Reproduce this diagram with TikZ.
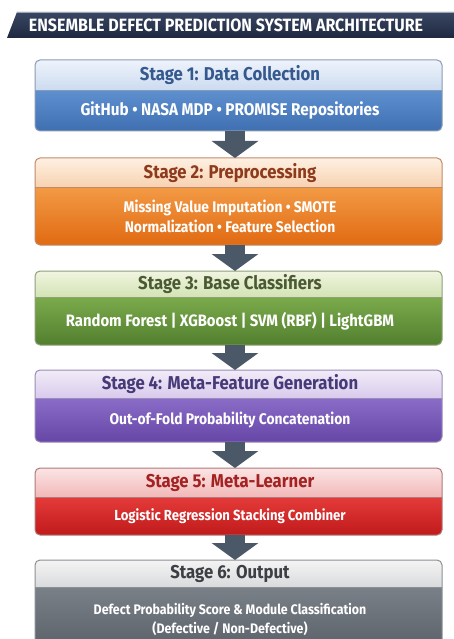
\documentclass[tikz,border=0pt]{standalone}
\usepackage{fontspec}
\setmainfont{Fira Sans}
\newfontfamily\cf[FakeStretch=0.9]{Fira Sans}
\usetikzlibrary{arrows.meta,shadings}
\definecolor{bannerTop}{HTML}{3A4662}
\definecolor{bannerBot}{HTML}{1E2840}
\definecolor{bannerEdge}{HTML}{9AA6B8}
\definecolor{arrowc}{HTML}{4B5868}
% stage 1 blue
\definecolor{sAht}{HTML}{EEF3FB}\definecolor{sAhb}{HTML}{CCDBF0}
\definecolor{sAbt}{HTML}{5E90D0}\definecolor{sAbb}{HTML}{3F6FB0}
\definecolor{sAtx}{HTML}{35598E}\definecolor{sAbr}{HTML}{8A9AB4}
% stage 2 orange
\definecolor{sBht}{HTML}{FEF0E2}\definecolor{sBhb}{HTML}{F8D2B0}
\definecolor{sBbt}{HTML}{F39A45}\definecolor{sBbb}{HTML}{E06A12}
\definecolor{sBtx}{HTML}{8E3A1C}\definecolor{sBbr}{HTML}{C08A6A}
% stage 3 green
\definecolor{sCht}{HTML}{F0F5E0}\definecolor{sChb}{HTML}{D3E3B4}
\definecolor{sCbt}{HTML}{7BAA4C}\definecolor{sCbb}{HTML}{527F2E}
\definecolor{sCtx}{HTML}{4B5A34}\definecolor{sCbr}{HTML}{8FA07A}
% stage 4 purple
\definecolor{sDht}{HTML}{F2ECF8}\definecolor{sDhb}{HTML}{D8CAEC}
\definecolor{sDbt}{HTML}{8A6CC8}\definecolor{sDbb}{HTML}{6646A6}
\definecolor{sDtx}{HTML}{463A78}\definecolor{sDbr}{HTML}{9A8CB8}
% stage 5 red
\definecolor{sEht}{HTML}{FBE4E4}\definecolor{sEhb}{HTML}{F2B8B8}
\definecolor{sEbt}{HTML}{E43A3A}\definecolor{sEbb}{HTML}{C01A1A}
\definecolor{sEtx}{HTML}{A42222}\definecolor{sEbr}{HTML}{B07A7A}
% stage 6 gray
\definecolor{sFht}{HTML}{F4F4F4}\definecolor{sFhb}{HTML}{D9DADC}
\definecolor{sFbt}{HTML}{7A8088}\definecolor{sFbb}{HTML}{5A6068}
\definecolor{sFtx}{HTML}{3C3F44}\definecolor{sFbr}{HTML}{8C9096}

% #1 id, #2 top, #3 divider, #4 bottom, #5 colour prefix, #6 body font size, #7 title, #8 body
\newcommand\mkstage[8]{%
  \begin{scope}
    \clip[rounded corners=5pt] (35,#2) rectangle (442,#4);
    \node[hdrbox, top color=#5ht, bottom color=#5hb, text=#5tx,
          minimum height={(#3-#2)*1pt}] (h#1) at (230,#2) {#7};
    \node[bodybox, top color=#5bt, bottom color=#5bb,
          font=\cf\bfseries\fontsize{#6}{19.5}\selectfont,
          minimum height={(#4-#3)*1pt}] (b#1) at (230,#3) {#8};
    \draw[#5br, line width=0.6pt] (h#1.south west) -- (h#1.south east);
  \end{scope}
  \draw[#5br, line width=1pt, rounded corners=5pt] (35,#2) rectangle (442,#4);
}

\begin{document}
\begin{tikzpicture}[x=1pt,y=-1pt,
  hdrbox/.style={anchor=north, minimum width=440pt, inner sep=0pt,
    font=\cf\bfseries\fontsize{18.6}{21}\selectfont},
  bodybox/.style={anchor=north, minimum width=440pt, inner sep=0pt,
    text=white, align=center},
  flow/.style={arrowc, line width=20pt,
    -{Triangle[width=46pt,length=17pt]}},
  bannertext/.style={text=white, inner sep=0pt,
    font=\cf\bfseries\fontsize{17.8}{20}\selectfont}]
\useasboundingbox (0,0) rectangle (454,639);
\fill[white] (0,0) rectangle (454,639);

% banner
\shade[top color=bannerTop, bottom color=bannerBot]
  (17,12) -- (454,12) -- (454,38) -- (7,38) -- cycle;
\draw[bannerEdge, line width=0.8pt] (17,12.4) -- (454,12.4);
\node[bannertext] (title) at (226,25.5) {ENSEMBLE DEFECT PREDICTION SYSTEM ARCHITECTURE};

\mkstage{1}{60}{90}{131}{sA}{17}{Stage 1: Data Collection}{GitHub • NASA MDP • PROMISE Repositories}
\mkstage{2}{158}{187}{245}{sB}{15.4}{Stage 2: Preprocessing}{Missing Value Imputation • SMOTE\\Normalization • Feature Selection}
\mkstage{3}{271}{297}{345}{sC}{16.5}{Stage 3: Base Classifiers}{Random Forest | XGBoost | SVM (RBF) | LightGBM}
\mkstage{4}{370}{398}{442}{sD}{15.4}{Stage 4: Meta-Feature Generation}{Out-of-Fold Probability Concatenation}
\mkstage{5}{468}{497}{535}{sE}{14.6}{Stage 5: Meta-Learner}{Logistic Regression Stacking Combiner}
\mkstage{6}{560}{587}{652}{sF}{13.8}{Stage 6: Output}{Defect Probability Score \& Module Classification\\(Defective / Non-Defective)}

\draw[flow] ([xshift=5pt]b1.south) -- ([xshift=5pt]h2.north);
\draw[flow] ([xshift=5pt]b2.south) -- ([xshift=5pt]h3.north);
\draw[flow] ([xshift=5pt]b3.south) -- ([xshift=5pt]h4.north);
\draw[flow] ([xshift=5pt]b4.south) -- ([xshift=5pt]h5.north);
\draw[flow] ([xshift=5pt]b5.south) -- ([xshift=5pt]h6.north);
\end{tikzpicture}
\end{document}
